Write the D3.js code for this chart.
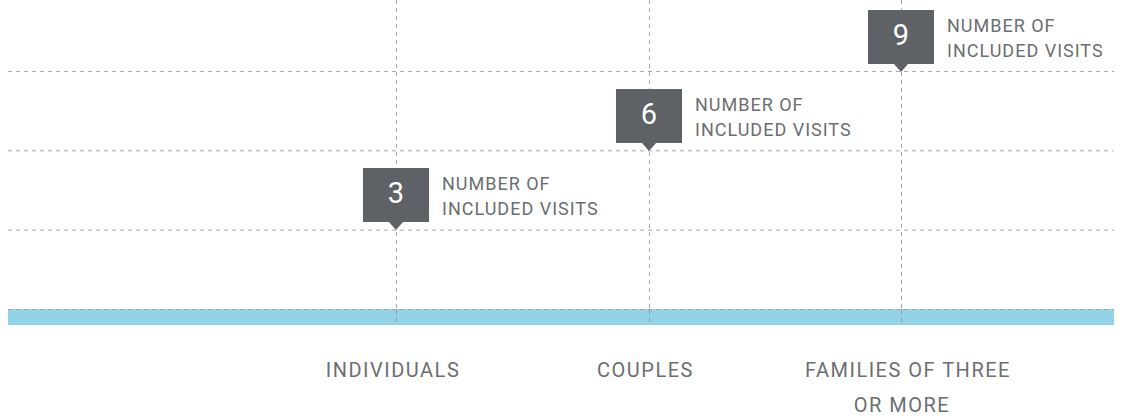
<!DOCTYPE html>
<html><head><meta charset="utf-8">
<script src="https://cdn.jsdelivr.net/npm/d3@7"></script>
<style>body{margin:0;background:#fff;}svg{display:block;}</style>
</head><body>
<script>
const categories = ["INDIVIDUALS", "COUPLES", "FAMILIES OF THREE|OR MORE"];
const visits = [3, 6, 9];
const gridTicks = [0, 3, 6, 9];
const markerLabel = ["NUMBER OF", "INCLUDED VISITS"];

const W = 1122, H = 419;
const svg = d3.select("body").append("svg").attr("width", W).attr("height", H);
const x = d3.scalePoint().domain(categories).range([396, 901]);
const y = d3.scaleLinear().domain([0, 9]).range([309.5, 71.5]);
const left = 8, right = 1114;

// vertical dashed lines
svg.append("g").selectAll("line").data(categories).join("line")
  .attr("x1", d => Math.round(x(d)) + 0.5).attr("x2", d => Math.round(x(d)) + 0.5)
  .attr("y1", 0).attr("y2", 325)
  .attr("stroke", "#a8a8a8").attr("stroke-width", 1).attr("stroke-dasharray", "4,4");

// horizontal grid lines
svg.append("g").selectAll("line").data(gridTicks.filter(d => d > 0)).join("line")
  .attr("x1", left).attr("x2", right)
  .attr("y1", d => y(d)).attr("y2", d => y(d))
  .attr("stroke", "#a8a8a8").attr("stroke-width", 1).attr("stroke-dasharray", "4,4");

// baseline band
svg.append("rect").attr("x", left).attr("y", y(0) - 0.5).attr("width", right - left).attr("height", 16)
  .attr("fill", "#92d3e9");
svg.append("line").attr("x1", left).attr("x2", right).attr("y1", y(0)).attr("y2", y(0))
  .attr("stroke", "#8a9aa2").attr("stroke-width", 1).attr("stroke-dasharray", "4,4").attr("opacity", 0.7);
svg.append("g").selectAll("line").data(categories).join("line")
  .attr("x1", d => Math.round(x(d)) + 0.5).attr("x2", d => Math.round(x(d)) + 0.5)
  .attr("y1", y(0)).attr("y2", 325)
  .attr("stroke", "#8a9aa2").attr("stroke-width", 1).attr("stroke-dasharray", "4,4");

// markers
const bw = 66, bh = 54, ph = 8, pw = 7;
const mk = svg.append("g").selectAll("g").data(categories.map((c, i) => ({c, v: visits[i]}))).join("g")
  .attr("transform", d => `translate(${Math.round(x(d.c))},${Math.round(y(d.v))})`);
mk.append("path")
  .attr("d", `M${-bw/2},${-ph-bh} h${bw} v${bh} h${-(bw/2 - pw)} l${-pw},${ph} l${-pw},${-ph} h${-(bw/2 - pw)} Z`)
  .attr("fill", "#5e6165");
mk.append("text").attr("x", 0).attr("y", -27)
  .attr("text-anchor", "middle").attr("fill", "#fff")
  .attr("font-family", "Roboto, sans-serif").attr("font-size", 29).text(d => d.v);
mk.append("text").attr("font-family", "Roboto, sans-serif").attr("font-size", 18)
  .attr("letter-spacing", 1).attr("fill", "#6b6e72")
  .selectAll("tspan").data(markerLabel).join("tspan")
  .attr("x", 46).attr("y", (d, i) => -40 + i * 25).text(d => d);

// category labels
const cl = svg.append("g").selectAll("text").data(categories).join("text")
  .attr("text-anchor", "middle").attr("font-family", "Roboto, sans-serif").attr("font-size", 20)
  .attr("letter-spacing", 1.5).attr("fill", "#6b6e72");
cl.selectAll("tspan").data(d => d.split("|").map((t, i, a) => ({t, c: d, multi: a.length > 1}))).join("tspan")
  .attr("x", (d, i) => x(d.c) - 3 + (d.multi ? (i === 0 ? 10 : 4) : 0))
  .attr("y", (d, i) => 377 + i * 35).text(d => d.t);
</script>
</body></html>
